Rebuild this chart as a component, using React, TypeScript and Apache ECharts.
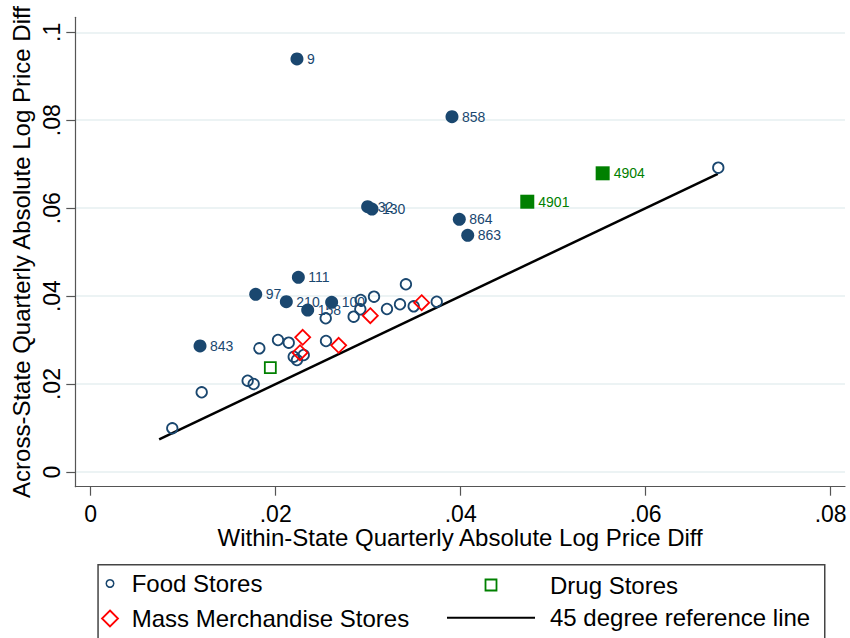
import React, { useEffect, useRef } from 'react';
import * as echarts from 'echarts';

// Hollow food-store points [within, across]
const foodStores: [number, number][] = [
  [0.00882, 0.00994], [0.01200, 0.01813], [0.01697, 0.02076], [0.01762, 0.02001],
  [0.01823, 0.02813], [0.02025, 0.03002], [0.02141, 0.02941], [0.02195, 0.02622],
  [0.02230, 0.02547], [0.02303, 0.02661], [0.02541, 0.03496], [0.02544, 0.02979],
  [0.02843, 0.03532], [0.02915, 0.03700], [0.02919, 0.03912], [0.03063, 0.03987],
  [0.03203, 0.03707], [0.03344, 0.03814], [0.03408, 0.04269], [0.03492, 0.03768],
  [0.03741, 0.03873], [0.06785, 0.06921],
];

// Labelled (filled) food-store points [within, across, id]
const foodLabelled: [number, number, string][] = [
  [0.02230, 0.09393, '9'], [0.03906, 0.08081, '858'], [0.03985, 0.05747, '864'],
  [0.04076, 0.05383, '863'], [0.02994, 0.06034, '32'], [0.03041, 0.05981, '130'],
  [0.02245, 0.04428, '111'], [0.01784, 0.04041, '97'], [0.02115, 0.03873, '210'],
  [0.02346, 0.03684, '158'], [0.02605, 0.03859, '100'], [0.01182, 0.02866, '843'],
];

const massMerch: [number, number][] = [
  [0.02292, 0.03063], [0.02263, 0.02713], [0.03023, 0.03555], [0.02681, 0.02882], [0.03578, 0.03850],
];

const drugStores: [number, number][] = [[0.01942, 0.02372]];

const drugLabelled: [number, number, string][] = [
  [0.04720, 0.06147, '4901'], [0.05535, 0.06793, '4904'],
];

const refLine: [number, number][] = [[0.0074, 0.0074], [0.0678, 0.0678]];

const xTicks = [0, 0.02, 0.04, 0.06, 0.08];
const yTicks = [0, 0.02, 0.04, 0.06, 0.08, 0.1];

const NAVY = '#1a476f';
const GREEN = '#008000';
const RED = '#ff0000';
const FONT = "'Liberation Sans', Arial, Helvetica, sans-serif";

const fmt = (v: number) => (v === 0 ? '0' : String(+v.toFixed(4)).replace(/^0\./, '.'));

export default function App() {
  const ref = useRef<HTMLDivElement>(null);
  useEffect(() => {
    if (!ref.current) return;
    const chart = echarts.init(ref.current, undefined, { renderer: 'svg' });
    const legendText = { fontSize: 24, color: '#000', fontFamily: FONT };
    chart.setOption({
      animation: false,
      backgroundColor: '#ffffff',
      textStyle: { fontFamily: FONT },
      grid: {
        left: 75.3, right: 5, top: 17.3, bottom: 151.3,
        containLabel: false, outerBoundsMode: 'none',
      },
      xAxis: {
        type: 'value',
        min: -0.001665, max: 0.08155,
        name: 'Within-State Quarterly Absolute Log Price Diff',
        nameLocation: 'middle', nameGap: 39, nameMoveOverlap: false,
        nameTextStyle: { fontSize: 24, color: '#000', fontFamily: FONT },
        axisLine: { show: true, onZero: false, lineStyle: { color: '#555', width: 1.2 } },
        axisTick: { show: true, length: 9, customValues: xTicks, lineStyle: { color: '#555', width: 1.2 } },
        axisLabel: { customValues: xTicks, formatter: fmt, fontSize: 23, color: '#000', margin: 16, fontFamily: FONT },
        splitLine: { show: false },
      },
      yAxis: {
        type: 'value',
        min: -0.003343, max: 0.10341,
        name: 'Across-State Quarterly Absolute Log Price Diff',
        nameLocation: 'middle', nameGap: 41.4, nameMoveOverlap: false,
        nameTextStyle: { fontSize: 24, color: '#000', fontFamily: FONT },
        axisLine: { show: true, onZero: false, lineStyle: { color: '#555', width: 1.2 } },
        axisTick: { show: true, length: 9, customValues: yTicks, lineStyle: { color: '#555', width: 1.2 } },
        axisLabel: { customValues: yTicks, formatter: fmt, fontSize: 23, color: '#000', margin: 11.5, rotate: 90, fontFamily: FONT },
        splitLine: { show: true, lineStyle: { color: '#e6eff1', width: 1.5 } },
      },
      legend: [
        {
          data: [{ name: 'Food Stores', icon: 'circle', itemStyle: { color: 'rgba(255,255,255,0)', borderColor: NAVY, borderWidth: 1.5 } }],
          left: 105.5, top: 571.5, itemWidth: 33.4, itemHeight: 7.5, padding: 0,
          selectedMode: false, textStyle: legendText,
        },
        {
          data: [{ name: 'Mass Merchandise Stores', icon: 'path://M8,0L16,8L8,16L0,8Z', itemStyle: { color: 'rgba(255,255,255,0)', borderColor: RED, borderWidth: 1.8 } }],
          left: 101.1, top: 606.5, itemWidth: 33.4, itemHeight: 16, padding: 0,
          selectedMode: false, textStyle: legendText,
        },
        {
          data: [{ name: 'Drug Stores', icon: 'path://M0,0H11V11H0Z', itemStyle: { color: 'rgba(255,255,255,0)', borderColor: GREEN, borderWidth: 1.8 } }],
          left: 484.6, top: 573, itemWidth: 108, itemHeight: 11, padding: 0,
          selectedMode: false, textStyle: legendText,
        },
        {
          data: [{ name: '45 degree reference line', icon: 'path://M0,0H88V2H0Z', itemStyle: { color: '#000', borderWidth: 0 } }],
          left: 447, top: 605.8, itemWidth: 108, itemHeight: 2, padding: 0,
          selectedMode: false, textStyle: legendText,
        },
      ],
      graphic: [
        {
          type: 'rect', left: 97.3, top: 564, z: -1, silent: true,
          shape: { width: 726.7, height: 100 },
          style: { fill: '#fff', stroke: '#444', lineWidth: 1.5 },
        },
      ],
      series: [
        {
          name: '45 degree reference line', type: 'line', data: refLine,
          symbol: 'none', lineStyle: { color: '#000', width: 2.5 }, itemStyle: { color: '#000' }, z: 1,
        },
        {
          name: 'Food Stores', type: 'scatter', data: foodStores, symbol: 'circle', symbolSize: 10.5,
          itemStyle: { color: 'rgba(255,255,255,0)', borderColor: NAVY, borderWidth: 1.8, opacity: 1 }, z: 3,
        },
        {
          name: 'Food Stores (labelled)', type: 'scatter', symbol: 'circle', symbolSize: 13,
          data: foodLabelled.map(([x, y, n]) => ({ value: [x, y], name: n })),
          itemStyle: { color: NAVY, opacity: 1 },
          label: { show: true, position: 'right', distance: 3.5, formatter: '{b}', fontSize: 14, color: NAVY, fontFamily: FONT },
          z: 4,
        },
        {
          name: 'Mass Merchandise Stores', type: 'scatter', data: massMerch, symbol: 'diamond', symbolSize: 15,
          itemStyle: { color: 'rgba(255,255,255,0)', borderColor: RED, borderWidth: 1.8, opacity: 1 }, z: 3,
        },
        {
          name: 'Drug Stores', type: 'scatter', data: drugStores, symbol: 'rect', symbolSize: 11,
          itemStyle: { color: 'rgba(255,255,255,0)', borderColor: GREEN, borderWidth: 1.8, opacity: 1 }, z: 3,
        },
        {
          name: 'Drug Stores (labelled)', type: 'scatter', symbol: 'rect', symbolSize: 14,
          data: drugLabelled.map(([x, y, n]) => ({ value: [x, y], name: n })),
          itemStyle: { color: GREEN, opacity: 1 },
          label: { show: true, position: 'right', distance: 4, formatter: '{b}', fontSize: 14, color: GREEN, fontFamily: FONT },
          z: 4,
        },
      ],
    });
    return () => chart.dispose();
  }, []);
  return <div ref={ref} style={{ position: 'fixed', left: 0, top: 0, width: 850, height: 638 }} />;
}
